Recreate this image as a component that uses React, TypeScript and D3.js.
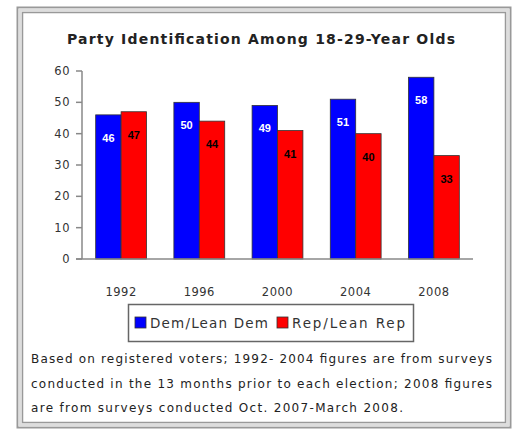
import React from "react";
import * as d3 from "d3";

const years = ["1992", "1996", "2000", "2004", "2008"];
const demValues = [46, 50, 49, 51, 58];
const repValues = [47, 44, 41, 40, 33];
const yTicks = [0, 10, 20, 30, 40, 50, 60];
const seriesNames = ["Dem/Lean Dem", "Rep/Lean Rep"];
const seriesColors = ["#0000ff", "#ff0000"];
const labelColors = ["#ffffff", "#000000"];
const title = "Party Identification Among 18-29-Year Olds";
const noteLines = [
  "Based on registered voters; 1992- 2004 figures are from surveys",
  "conducted in the 13 months prior to each election; 2008 figures",
  "are from surveys conducted Oct. 2007-March 2008.",
];
const noteWidths = [461, 461, 372];

export default function App() {
  const x = d3.scaleBand<string>().domain(years).range([82, 473]).paddingInner(0.35).paddingOuter(0.175);
  const sub = d3.scaleBand<number>().domain([0, 1]).range([0, x.bandwidth()]);
  const y = d3.scaleLinear().domain([0, 60]).range([259, 71]);
  const series = [demValues, repValues];
  const font = "'DejaVu Sans', Arial, sans-serif";

  return (
    <svg width={514} height={430} style={{ position: "absolute", left: 0, top: 0, background: "#fff" }}>
      {/* frame */}
      <rect x={17.5} y={7.5} width={493} height={420} fill="#fff" stroke="#999" strokeWidth={2} />
      <rect x={20} y={10} width={488} height={415} fill="none" stroke="#ddd" strokeWidth={3} />
      <rect x={22.5} y={12.5} width={483} height={410} fill="none" stroke="#999" strokeWidth={1.5} />

      <text x={261} y={43.5} textAnchor="middle" fontFamily={font} fontWeight="bold" fontSize={14} fill="#222" textLength={388} lengthAdjust="spacing">
        {title}
      </text>

      {/* y axis */}
      <line x1={82} x2={82} y1={y(60)} y2={y(0)} stroke="#888" strokeWidth={1.5} />
      {yTicks.map((t) => (
        <g key={t}>
          <line x1={76} x2={82} y1={y(t)} y2={y(t)} stroke="#888" strokeWidth={1.5} />
          <text x={70} y={y(t) + 4} textAnchor="end" fontFamily={font} fontSize={11.5} letterSpacing={0.5} fill="#333">
            {t}
          </text>
        </g>
      ))}

      {/* bars */}
      {years.map((yr, i) => (
        <g key={yr}>
          {series.map((vals, s) => {
            const bx = (x(yr) as number) + (sub(s) as number);
            const bw = sub.bandwidth();
            return (
              <g key={s}>
                <rect x={bx} y={y(vals[i])} width={bw} height={y(0) - y(vals[i])} fill={seriesColors[s]} stroke="#333" strokeWidth={0.8} />
                <text x={bx + bw / 2} y={y(vals[i]) + 27} textAnchor="middle" fontFamily="Arial, 'Liberation Sans', sans-serif" fontWeight="bold" fontSize={11} fill={labelColors[s]}>
                  {vals[i]}
                </text>
              </g>
            );
          })}
          <text x={(x(yr) as number) + x.bandwidth() / 2} y={296} textAnchor="middle" fontFamily={font} fontSize={11.5} letterSpacing={0.5} fill="#333">
            {yr}
          </text>
        </g>
      ))}

      {/* x axis */}
      <line x1={76} x2={473} y1={y(0)} y2={y(0)} stroke="#888" strokeWidth={1.5} />

      {/* legend */}
      <rect x={128.5} y={304.5} width={285} height={37} fill="#fff" stroke="#666" strokeWidth={1.5} />
      <rect x={135} y={317} width={11} height={11} fill={seriesColors[0]} stroke="#333" strokeWidth={0.8} />
      <text x={150} y={327.5} fontFamily={font} fontSize={13.5} fill="#333" textLength={118} lengthAdjust="spacing">
        {seriesNames[0]}
      </text>
      <rect x={277} y={317} width={11} height={11} fill={seriesColors[1]} stroke="#333" strokeWidth={0.8} />
      <text x={292} y={327.5} fontFamily={font} fontSize={13.5} fill="#333" textLength={113} lengthAdjust="spacing">
        {seriesNames[1]}
      </text>

      {/* note */}
      {noteLines.map((line, i) => (
        <text key={i} x={31} y={363 + i * 24.5} fontFamily={font} fontSize={12} fill="#222" textLength={noteWidths[i]} lengthAdjust="spacing">
          {line}
        </text>
      ))}
    </svg>
  );
}
